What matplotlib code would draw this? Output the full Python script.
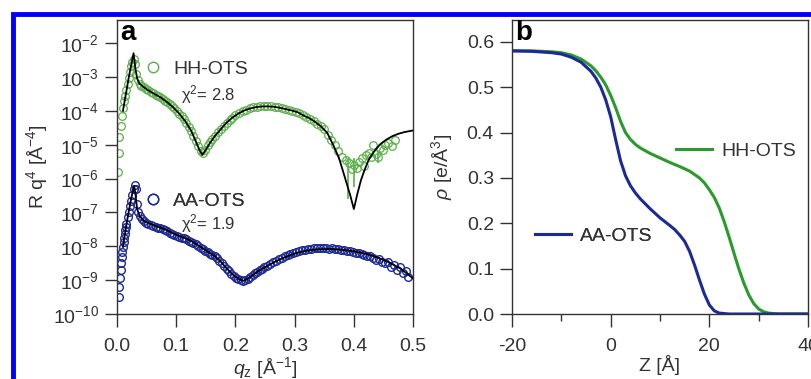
import numpy as np
import matplotlib
matplotlib.use("Agg")
import matplotlib.pyplot as plt
from matplotlib.patches import Rectangle
from matplotlib.lines import Line2D
from matplotlib.ticker import FixedLocator, FormatStrFormatter

plt.rcParams['font.family'] = ['Liberation Sans', 'DejaVu Sans']
plt.rcParams['mathtext.fontset'] = 'custom'
plt.rcParams['mathtext.rm'] = 'Liberation Sans'
plt.rcParams['mathtext.it'] = 'Liberation Sans:italic'
plt.rcParams['mathtext.default'] = 'regular'
plt.rcParams['axes.unicode_minus'] = False

# ---- panel a: reflectivity (values are log10 of R q^4) ----
hh_q = [0.002, 0.003, 0.004, 0.006, 0.008, 0.010, 0.012, 0.014, 0.016, 0.018,
        0.020, 0.022, 0.024, 0.026, 0.028, 0.030, 0.032, 0.035, 0.038, 0.041,
        0.045, 0.049, 0.053, 0.057, 0.061, 0.065, 0.069, 0.073, 0.077, 0.081,
        0.085, 0.089, 0.093, 0.097, 0.101, 0.105, 0.109, 0.113, 0.117, 0.121,
        0.125, 0.129, 0.133, 0.137, 0.141, 0.145, 0.149, 0.153, 0.157, 0.161,
        0.165, 0.170, 0.175, 0.180, 0.185, 0.190, 0.195, 0.200, 0.206, 0.212,
        0.218, 0.224, 0.230, 0.236, 0.242, 0.248, 0.254, 0.260, 0.266, 0.272,
        0.278, 0.284, 0.290, 0.296, 0.302, 0.308, 0.314, 0.320, 0.326, 0.332,
        0.338, 0.344, 0.350, 0.356, 0.362, 0.368, 0.374, 0.380, 0.386, 0.392,
        0.397, 0.401, 0.405, 0.409, 0.413, 0.417, 0.421, 0.425, 0.429, 0.433,
        0.437, 0.441, 0.445, 0.449, 0.453, 0.458, 0.464, 0.470]
hh_log = [-5.80, -5.24, -4.77, -4.45, -4.15, -3.92, -3.72, -3.55, -3.40, -3.20,
          -3.02, -2.85, -2.68, -2.55, -2.48, -2.62, -2.90, -3.10, -3.20, -3.26,
          -3.30, -3.35, -3.39, -3.44, -3.48, -3.52, -3.56, -3.60, -3.65, -3.70,
          -3.75, -3.81, -3.87, -3.93, -4.00, -4.08, -4.16, -4.25, -4.35, -4.47,
          -4.60, -4.74, -4.90, -5.05, -5.20, -5.25, -5.15, -5.02, -4.93, -4.84,
          -4.75, -4.64, -4.54, -4.45, -4.36, -4.28, -4.20, -4.13, -4.06, -4.01,
          -3.97, -3.93, -3.90, -3.89, -3.87, -3.86, -3.87, -3.87, -3.89, -3.90,
          -3.93, -3.95, -3.98, -4.01, -4.04, -4.07, -4.13, -4.18, -4.24, -4.30,
          -4.38, -4.45, -4.55, -4.70, -4.85, -5.00, -5.20, -5.35, -5.45, -5.55,
          -5.72, -5.60, -5.68, -5.50, -5.40, -5.62, -5.30, -5.25, -5.35, -5.02,
          -5.28, -5.36, -5.10, -5.16, -5.00, -4.95, -5.05, -4.86]
hh_err_q = [0.390, 0.401, 0.441]
hh_err_lo = [-6.60, -6.25, -5.55]
hh_err_hi = [-5.40, -5.40, -5.20]

hh_fit_q = [0.010, 0.015, 0.020, 0.025, 0.028, 0.031, 0.034, 0.038, 0.045, 0.055,
            0.065, 0.075, 0.085, 0.095, 0.105, 0.115, 0.125, 0.133, 0.139, 0.144,
            0.150, 0.157, 0.165, 0.175, 0.185, 0.195, 0.205, 0.215, 0.225, 0.235,
            0.245, 0.255, 0.265, 0.275, 0.285, 0.295, 0.305, 0.315, 0.325, 0.335,
            0.345, 0.355, 0.365, 0.375, 0.382, 0.388, 0.394, 0.400, 0.406, 0.412,
            0.418, 0.425, 0.435, 0.445, 0.455, 0.465, 0.475, 0.485, 0.500]
hh_fit_log = [-4.00, -3.50, -3.00, -2.55, -2.30, -2.75, -3.05, -3.20, -3.30, -3.42,
              -3.52, -3.62, -3.75, -3.90, -4.08, -4.30, -4.58, -4.90, -5.15, -5.30,
              -5.15, -4.95, -4.75, -4.55, -4.35, -4.20, -4.08, -3.99, -3.93, -3.89,
              -3.87, -3.87, -3.88, -3.91, -3.95, -3.99, -4.04, -4.14, -4.22, -4.33,
              -4.47, -4.65, -5.00, -5.40, -5.80, -6.15, -6.50, -6.90, -6.45, -6.05,
              -5.75, -5.45, -5.18, -4.98, -4.85, -4.75, -4.68, -4.63, -4.58]

aa_q = [0.003, 0.004, 0.005, 0.006, 0.007, 0.008, 0.009, 0.010, 0.011, 0.012,
        0.013, 0.014, 0.015, 0.016, 0.018, 0.020, 0.022, 0.024, 0.026, 0.028,
        0.030, 0.032, 0.034, 0.036, 0.039, 0.042, 0.045, 0.049, 0.053, 0.057,
        0.061, 0.065, 0.069, 0.073, 0.077, 0.081, 0.085, 0.089, 0.093, 0.097,
        0.101, 0.105, 0.109, 0.113, 0.117, 0.121, 0.125, 0.129, 0.133, 0.137,
        0.141, 0.145, 0.149, 0.153, 0.157, 0.161, 0.165, 0.169, 0.173, 0.177,
        0.181, 0.185, 0.189, 0.193, 0.197, 0.201, 0.205, 0.209, 0.213, 0.217,
        0.221, 0.225, 0.229, 0.233, 0.237, 0.241, 0.245, 0.249, 0.253, 0.258,
        0.263, 0.268, 0.273, 0.278, 0.283, 0.288, 0.293, 0.298, 0.303, 0.308,
        0.313, 0.318, 0.323, 0.328, 0.333, 0.338, 0.343, 0.348, 0.353, 0.358,
        0.363, 0.368, 0.373, 0.378, 0.383, 0.388, 0.393, 0.398, 0.403, 0.408,
        0.413, 0.418, 0.423, 0.428, 0.433, 0.438, 0.443, 0.448, 0.453, 0.458,
        0.463, 0.468, 0.473, 0.478, 0.483, 0.488, 0.491]
aa_log = [-9.50, -9.20, -8.93, -8.70, -8.50, -8.32, -8.16, -8.02, -7.88, -7.76,
          -7.64, -7.53, -7.43, -7.33, -7.15, -6.98, -6.82, -6.66, -6.50, -6.32,
          -6.20, -6.30, -6.75, -6.98, -7.10, -7.18, -7.24, -7.30, -7.34, -7.37,
          -7.40, -7.43, -7.45, -7.47, -7.50, -7.53, -7.56, -7.60, -7.64, -7.67,
          -7.70, -7.73, -7.75, -7.77, -7.80, -7.83, -7.86, -7.90, -7.94, -7.99,
          -8.04, -8.08, -8.13, -8.18, -8.22, -8.26, -8.30, -8.36, -8.43, -8.50,
          -8.58, -8.66, -8.74, -8.81, -8.88, -8.93, -8.97, -9.00, -9.02, -9.00,
          -8.97, -8.92, -8.86, -8.80, -8.75, -8.70, -8.66, -8.61, -8.57, -8.52,
          -8.47, -8.43, -8.39, -8.34, -8.30, -8.27, -8.23, -8.20, -8.17, -8.14,
          -8.12, -8.10, -8.09, -8.07, -8.06, -8.05, -8.06, -8.05, -8.06, -8.07,
          -8.06, -8.08, -8.09, -8.10, -8.12, -8.14, -8.15, -8.17, -8.20, -8.19,
          -8.24, -8.26, -8.30, -8.29, -8.36, -8.40, -8.38, -8.47, -8.50, -8.45,
          -8.60, -8.55, -8.70, -8.62, -8.78, -8.72, -8.90]

aa_fit_q = [0.010, 0.015, 0.020, 0.025, 0.029, 0.031, 0.034, 0.038, 0.045, 0.055,
            0.065, 0.075, 0.085, 0.095, 0.105, 0.115, 0.125, 0.135, 0.145, 0.155,
            0.165, 0.175, 0.185, 0.195, 0.205, 0.213, 0.220, 0.230, 0.240, 0.250,
            0.260, 0.270, 0.280, 0.290, 0.300, 0.310, 0.320, 0.340, 0.360, 0.380,
            0.400, 0.420, 0.440, 0.460, 0.480, 0.500]
aa_fit_log = [-8.02, -7.45, -6.95, -6.50, -6.22, -6.45, -6.90, -7.10, -7.25, -7.33,
              -7.40, -7.46, -7.53, -7.62, -7.70, -7.76, -7.84, -7.95, -8.06, -8.18,
              -8.29, -8.45, -8.65, -8.83, -8.96, -9.02, -8.97, -8.84, -8.72, -8.62,
              -8.52, -8.43, -8.35, -8.28, -8.22, -8.17, -8.13, -8.09, -8.08, -8.10,
              -8.15, -8.22, -8.33, -8.48, -8.67, -8.95]

# ---- panel b: electron density profiles ----
z_hh = [-20, -16, -12, -10, -8, -6, -4, -3, -2, -1, 0, 1, 2, 3, 4, 5, 6, 8, 10,
        12, 14, 16, 18, 19, 20, 21, 22, 23, 24, 25, 26, 27, 28, 29, 30, 31, 32,
        34, 40]
rho_hh = [0.580, 0.580, 0.578, 0.576, 0.571, 0.562, 0.547, 0.536, 0.522, 0.505,
          0.482, 0.455, 0.425, 0.400, 0.385, 0.374, 0.366, 0.354, 0.344, 0.334,
          0.325, 0.315, 0.300, 0.289, 0.274, 0.257, 0.234, 0.204, 0.170, 0.134,
          0.099, 0.068, 0.042, 0.023, 0.011, 0.005, 0.002, 0.000, 0.000]
z_aa = [-20, -16, -12, -10, -8, -6, -4, -3, -2, -1, 0, 1, 2, 3, 4, 5, 6, 8, 10,
        12, 13, 14, 15, 16, 17, 18, 19, 20, 21, 22, 24, 40]
rho_aa = [0.580, 0.579, 0.576, 0.573, 0.566, 0.555, 0.535, 0.520, 0.500, 0.472,
          0.435, 0.385, 0.338, 0.305, 0.283, 0.267, 0.254, 0.232, 0.212, 0.195,
          0.186, 0.174, 0.160, 0.138, 0.108, 0.075, 0.044, 0.020, 0.007, 0.002,
          0.000, 0.000]

GREEN_PT = '#5cb04a'
GREEN = '#2a9a2a'
BLUE = '#1c2a98'
FRAME = '#333333'
FS = 14


def main():
    fig = plt.figure(figsize=(8.11, 3.79), dpi=100)
    ax_a = fig.add_axes([0.1443, 0.1715, 0.3650, 0.7757])
    ax_b = fig.add_axes([0.6313, 0.1715, 0.3650, 0.7757])
    draw_reflectivity(ax_a)
    draw_density(ax_b)
    # blue frame around the figure
    fig.add_artist(Rectangle((13 / 811, -0.2), 1.2, 1.2 - 14 / 379,
                             transform=fig.transFigure, fill=False,
                             edgecolor='#0000ff', linewidth=3.5))
    fig.savefig('out.png', dpi=100)


def style_axes(ax):
    for s in ax.spines.values():
        s.set_color(FRAME)
        s.set_linewidth(1.0)
    ax.tick_params(which='major', direction='out', length=9, width=1,
                   color=FRAME, labelsize=FS, labelcolor='#333333', pad=4)
    ax.tick_params(which='minor', direction='out', length=5, width=1,
                   color=FRAME)
    ax.tick_params(axis='x', which='major', pad=8)


def add_key(ax, handle, label, x, y, hlen, pad):
    leg = ax.legend([handle], [label], loc='center left', bbox_to_anchor=(x, y),
                    frameon=False, fontsize=FS, handlelength=hlen,
                    handletextpad=pad, borderpad=0, borderaxespad=0,
                    labelcolor='#333333')
    ax.add_artist(leg)


def draw_reflectivity(ax):
    ax.set_yscale('log')
    ax.plot(hh_q, 10.0 ** np.array(hh_log), 'o', mfc='none', mec=GREEN_PT,
            ms=5.5, mew=0.9)
    ax.vlines(hh_err_q, 10.0 ** np.array(hh_err_lo), 10.0 ** np.array(hh_err_hi),
              color=GREEN_PT, lw=1.2)
    ax.plot(aa_q, 10.0 ** np.array(aa_log), 'o', mfc='none', mec=BLUE,
            ms=5.5, mew=1.0)
    ax.plot(hh_fit_q, 10.0 ** np.array(hh_fit_log), color='black', lw=1.3)
    ax.plot(aa_fit_q, 10.0 ** np.array(aa_fit_log), color='black', lw=1.3)
    ax.set_xlim(0, 0.5)
    ax.set_ylim(1e-10, 4.8e-2)
    ax.yaxis.set_major_locator(FixedLocator([10.0 ** k for k in range(-10, -1)]))
    ax.yaxis.set_minor_locator(FixedLocator([]))
    ax.set_xticks([0.0, 0.1, 0.2, 0.3, 0.4, 0.5])
    ax.xaxis.set_major_formatter(FormatStrFormatter('%.1f'))
    style_axes(ax)
    ax.set_ylabel('R q$^{4}$ [Å$^{-4}$]', fontsize=FS, color='#333333')
    ax.set_xlabel('$\\mathit{q}_{z}$ [Å$^{-1}$]', fontsize=FS, color='#333333',
                  labelpad=0)
    ax.yaxis.set_label_coords(-0.226, 0.5)
    ax.text(0.012, 1.0, 'a', transform=ax.transAxes, fontsize=20,
            fontweight='bold', va='top', ha='left')
    h_hh = Line2D([], [], ls='none', marker='o', mfc='none', mec=GREEN_PT,
                  ms=7.5, mew=1)
    h_aa = Line2D([], [], ls='none', marker='o', mfc='none', mec=BLUE,
                  ms=7.5, mew=1)
    add_key(ax, h_hh, 'HH-OTS', 0.088, 0.833, 1.0, 0.55)
    add_key(ax, h_aa, 'AA-OTS', 0.088, 0.384, 1.0, 0.55)
    ax.text(0.216, 0.745, '$\\chi^{2}$= 2.8', transform=ax.transAxes,
            fontsize=12, va='center', color='#333333')
    ax.text(0.216, 0.306, '$\\chi^{2}$= 1.9', transform=ax.transAxes,
            fontsize=12, va='center', color='#333333')


def draw_density(ax):
    ax.plot(z_hh, rho_hh, color=GREEN, lw=2.2, label='HH-OTS')
    ax.plot(z_aa, rho_aa, color=BLUE, lw=2.2, label='AA-OTS')
    ax.set_xlim(-20, 40)
    ax.set_ylim(0, 0.648)
    ax.set_xticks([-20, 0, 20, 40])
    ax.set_xticks([-10, 10, 30], minor=True)
    ax.set_yticks([0.0, 0.1, 0.2, 0.3, 0.4, 0.5, 0.6])
    ax.yaxis.set_major_formatter(FormatStrFormatter('%.1f'))
    style_axes(ax)
    ax.set_ylabel('$\\mathit{\\rho}$ [e/Å$^{3}$]', fontsize=FS, color='#333333')
    ax.yaxis.set_label_coords(-0.193, 0.5)
    ax.set_xlabel('Z [Å]', fontsize=FS, color='#333333', labelpad=0)
    ax.text(0.012, 1.0, 'b', transform=ax.transAxes, fontsize=20,
            fontweight='bold', va='top', ha='left')
    lines = ax.get_lines()
    add_key(ax, lines[0], 'HH-OTS', 0.554, 0.554, 1.85, 0.46)
    add_key(ax, lines[1], 'AA-OTS', 0.078, 0.265, 1.85, 0.46)


if __name__ == "__main__":
    main()
